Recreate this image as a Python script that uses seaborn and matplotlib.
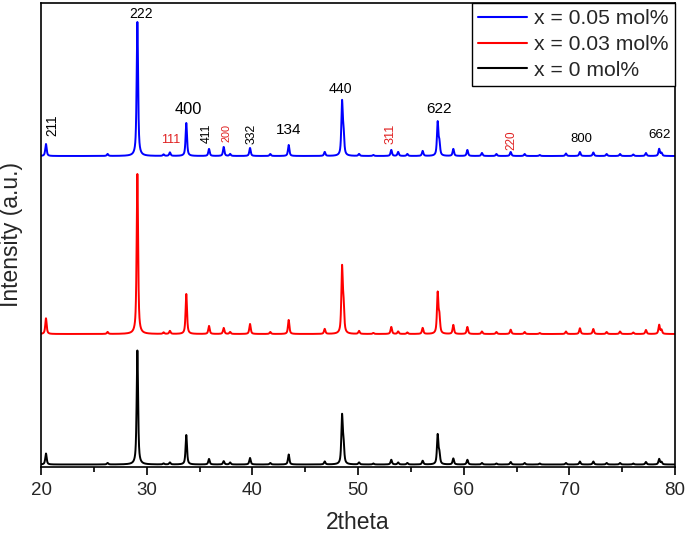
import numpy as np
import pandas as pd
import matplotlib
matplotlib.use("Agg")
import matplotlib.pyplot as plt
import seaborn as sns
from matplotlib.ticker import MultipleLocator

# ---------------- data ----------------
series_labels = ["x = 0.05 mol%", "x = 0.03 mol%", "x = 0 mol%"]
series_colors = ["#0000ff", "#ff0000", "#000000"]
baseline_offsets = [310.5, 132.5, 2.0]   # vertical stacking offsets (a.u.)

peak_pos = [20.47, 26.3, 29.12, 31.6, 32.2, 33.75, 35.9, 37.29, 37.9, 39.78,
            41.7, 43.44, 46.85, 48.49, 48.63, 50.1, 51.45, 53.15, 53.8, 54.67,
            56.12, 57.54, 57.70, 59.02, 60.35, 61.73, 63.1, 64.45, 65.77, 67.2,
            69.68, 71.0, 72.27, 73.53, 74.8, 76.05, 77.25, 78.5, 78.72]

peak_h_005 = [12, 2, 134, 1.5, 3.5, 33, 7, 9, 2, 8,
              2, 11, 4, 52, 20, 2, 1, 6, 4, 2,
              5, 33, 12, 7, 6, 3, 2, 4, 2, 1,
              2.5, 4, 3.5, 2, 2, 1.5, 3, 7, 3]
peak_h_003 = [15.7, 2, 160, 1.5, 3, 40, 8, 6, 2, 10,
              2, 14, 5, 64, 25, 3, 1, 7, 2.5, 1.5,
              6, 40, 16, 9, 7, 2.5, 2, 4.3, 2, 1,
              2.5, 5.7, 5, 2, 2.5, 1.5, 4, 9, 4]
peak_h_000 = [11, 1.5, 114, 1, 2, 29.5, 5.5, 3.3, 2, 6.5,
              1.5, 10, 3, 47, 18, 2, 1, 4.7, 2, 1.5,
              3.7, 29, 10, 6, 4.7, 1.5, 1, 2.5, 1.5, 1,
              1.5, 3, 3, 1.5, 1.5, 1, 2.5, 5.5, 2.5]

hkl_labels = ["211", "222", "111", "400", "411", "200", "332", "134", "440",
              "311", "622", "220", "800", "662"]
hkl_x = [21.1, 29.43, 32.30, 33.91, 35.68, 37.51, 39.97, 43.47, 48.36,
         53.06, 57.65, 64.51, 71.15, 78.53]
hkl_y = [341, 452.5, 326.5, 357, 333, 334, 332.5, 337, 378,
         333, 358, 326, 328, 331.5]
hkl_rot = [90, 0, 0, 0, 90, 90, 90, 0, 0, 90, 0, 90, 0, 0]
hkl_red = [False, False, True, False, False, True, False, False, False,
           True, False, True, False, False]
hkl_size = [9.8, 10, 9, 11.8, 8.8, 7.8, 8.8, 11, 10.2, 9.2, 11, 8.4, 9.4, 9.6]

# ---------------- build profiles ----------------
two_theta = np.arange(20.0, 80.0001, 0.01)
fwhm, eta = 0.16, 0.7


def profile(pos, heights):
    y = np.zeros_like(two_theta)
    hw = fwhm / 2
    for p, h in zip(pos, heights):
        d = (two_theta - p) / hw
        lor = 1.0 / (1.0 + d ** 2)
        gau = np.exp(-np.log(2) * d ** 2)
        y += h * (eta * lor + (1 - eta) * gau)
    return y


frames = []
for lab, hs, off in zip(series_labels, [peak_h_005, peak_h_003, peak_h_000], baseline_offsets):
    frames.append(pd.DataFrame({"2theta": two_theta,
                                "Intensity": profile(peak_pos, hs) + off,
                                "series": lab}))
df = pd.concat(frames, ignore_index=True)

# ---------------- plot ----------------
sns.set_theme(style="white")
plt.rcParams["font.family"] = ["Liberation Sans", "DejaVu Sans"]

fig = plt.figure(figsize=(6.85, 5.41), dpi=100)
ax = fig.add_axes([41 / 685, 74.5 / 541, 634 / 685, 463.5 / 541])

sns.lineplot(data=df, x="2theta", y="Intensity", hue="series",
             hue_order=series_labels, palette=series_colors,
             estimator=None, sort=False, linewidth=1.4, ax=ax)

for t, x, y, r, red, fs in zip(hkl_labels, hkl_x, hkl_y, hkl_rot, hkl_red, hkl_size):
    ax.text(x, y, t, rotation=r, ha="center", va="center", fontsize=fs,
            color="#e02020" if red else "black")

ax.set_xlim(20, 80)
ax.set_ylim(0, 463.5)
ax.xaxis.set_major_locator(MultipleLocator(10))
ax.xaxis.set_minor_locator(MultipleLocator(5))
ax.set_yticks([])
ax.tick_params(axis="x", which="major", direction="out", length=6, width=1.2,
               labelsize=13.5, pad=5, bottom=True, top=False, color="black")
ax.tick_params(axis="x", which="minor", direction="out", length=3.5, width=1.2,
               bottom=True, top=False, color="black")
for s in ax.spines.values():
    s.set_color("black")
    s.set_linewidth(1.2)

ax.set_xlabel("2theta", fontsize=16.5, labelpad=9)
ax.set_ylabel("Intensity (a.u.)", fontsize=16.5, labelpad=13)

leg = ax.legend(loc="upper right", frameon=True, fancybox=False, edgecolor="black",
                fontsize=15.2, borderaxespad=0, handlelength=2.3, labelspacing=0.32,
                handletextpad=0.35, borderpad=0.3, framealpha=1)
leg.get_frame().set_linewidth(1.0)
for line in leg.get_lines():
    line.set_linewidth(1.5)

fig.savefig("out.png", dpi=100)
